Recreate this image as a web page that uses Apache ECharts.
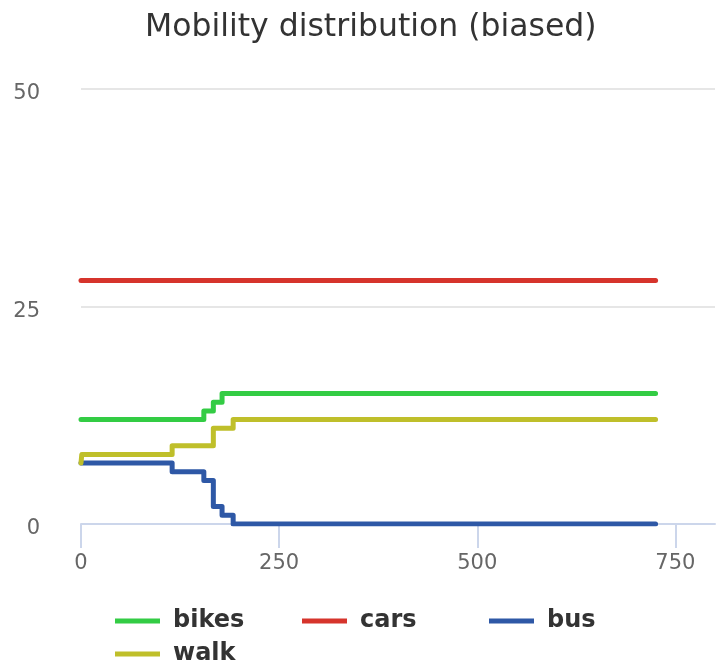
<!DOCTYPE html>
<html>
<head>
<meta charset="utf-8">
<script src="https://cdn.jsdelivr.net/npm/echarts@6/dist/echarts.min.js"></script>
<style>
  html, body { margin: 0; padding: 0; background: #fff; }
  #chart { width: 718px; height: 663px; }
</style>
</head>
<body>
<div id="chart"></div>
<script>
// step points: [time, count], value holds until the next point
const bikes = [[0, 12], [155, 13], [167, 14], [178, 15], [725, 15]];
const cars = [[0, 28], [725, 28]];
const bus = [[0, 7], [115, 6], [155, 5], [167, 2], [178, 1], [192, 0], [725, 0]];
const walk = [[0, 7], [1, 8], [115, 9], [167, 11], [192, 12], [725, 12]];

const names = ['bikes', 'cars', 'bus', 'walk'];
const colors = ['#33cc44', '#d6342c', '#2e58a6', '#bfbf2a'];
const xTicks = [0, 250, 500, 750];

const font = 'DejaVu Sans';

let chart = echarts.init(document.getElementById('chart'));

let series = [bikes, cars, bus, walk].map((data, i) => {
    return {
        name: names[i],
        type: 'line',
        step: 'end',
        data: data,
        showSymbol: false,
        lineStyle: { width: 5, color: colors[i], cap: 'round', join: 'round' },
        itemStyle: { color: colors[i] },
        emphasis: { disabled: true }
    };
});

let option = {
    animation: false,
    title: {
        text: 'Mobility distribution (biased)',
        left: 140,
        top: 7,
        textStyle: { fontFamily: font, fontSize: 31.5, fontWeight: 'normal', color: '#333' }
    },
    legend: {
        data: names,
        left: 110,
        top: 604,
        width: 580,
        itemWidth: 45,
        itemHeight: 5,
        itemGap: 9,
        icon: 'rect',
        formatter: '{a|{name}}',
        textStyle: {
            rich: {
                a: {
                    fontFamily: font, fontSize: 24, fontWeight: 'bold', color: '#333',
                    width: 120, lineHeight: 24, padding: [0, 0, 0, 8]
                }
            }
        }
    },
    grid: { left: 81, right: 3, top: 89, bottom: 139 },
    xAxis: {
        type: 'value',
        min: 0,
        max: 800,
        interval: 250,
        splitLine: { show: false },
        axisLine: { lineStyle: { color: '#ccd6eb', width: 2 } },
        axisTick: { length: 24, customValues: xTicks, lineStyle: { color: '#ccd6eb', width: 2 } },
        axisLabel: {
            customValues: xTicks,
            margin: 29,
            fontFamily: font, fontSize: 21, color: '#666'
        }
    },
    yAxis: {
        type: 'value',
        min: 0,
        max: 50,
        interval: 25,
        axisLine: { show: false },
        axisTick: { show: false },
        splitLine: { lineStyle: { color: '#e6e6e6', width: 2 } },
        axisLabel: {
            margin: 41,
            formatter: '{v|{value}}',
            rich: {
                v: { fontFamily: font, fontSize: 21, color: '#666', padding: [10, 0, 0, 0] }
            }
        }
    },
    series: series
};

chart.setOption(option);
</script>
</body>
</html>
